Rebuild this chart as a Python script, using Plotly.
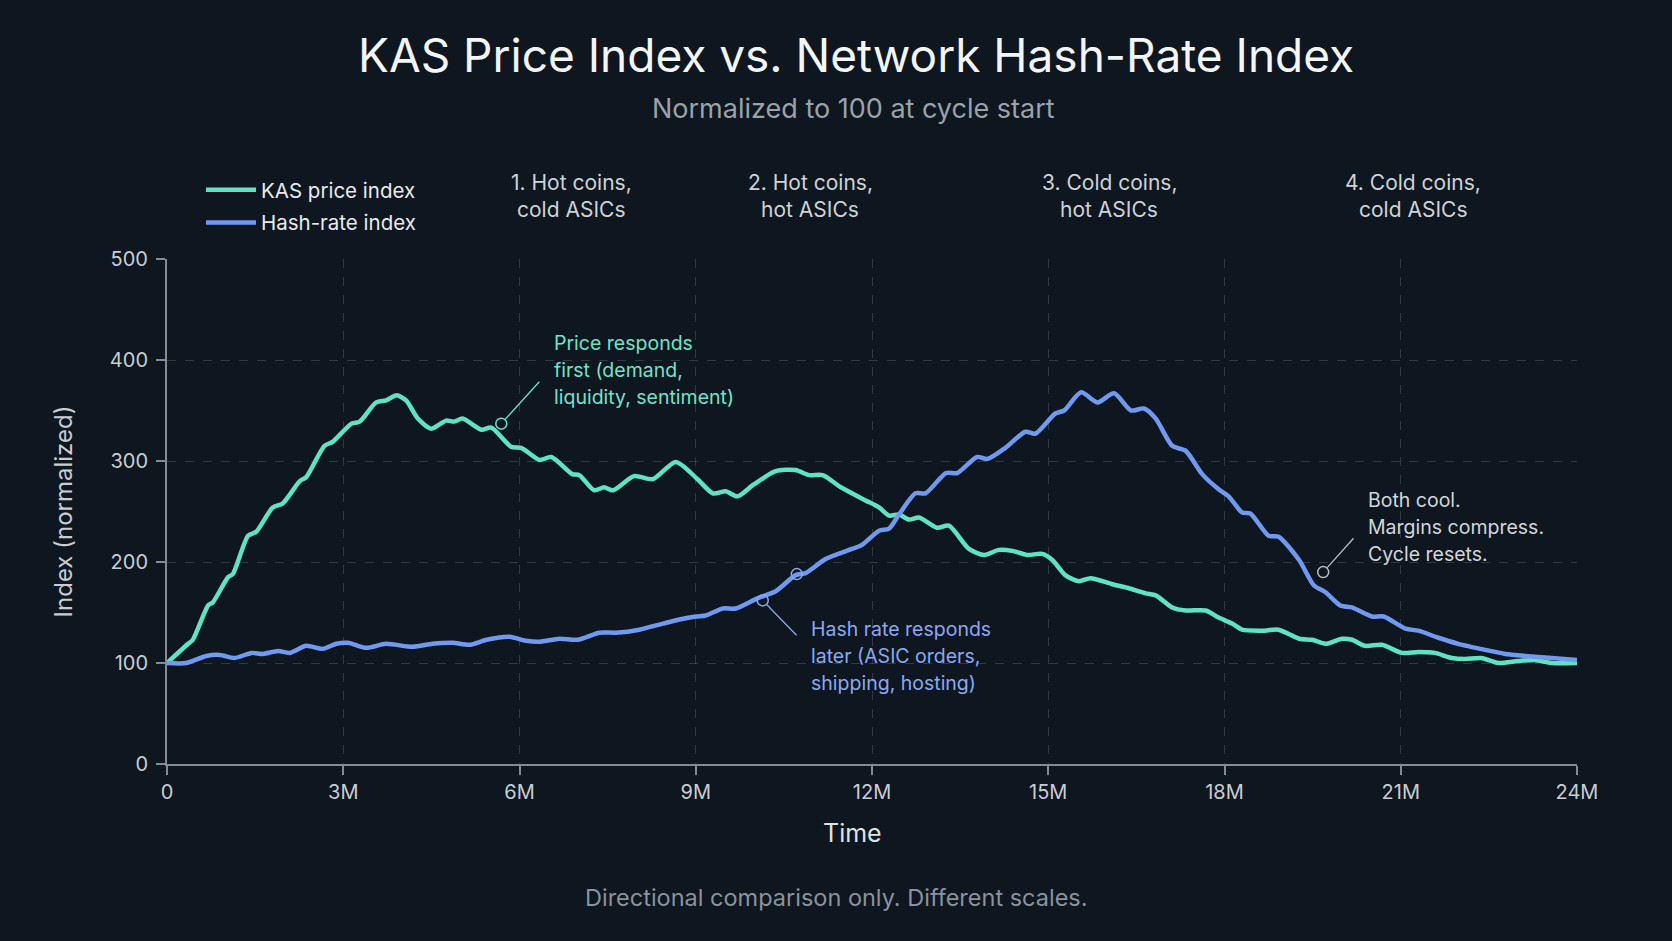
import plotly.graph_objects as go

# ---------------- data ----------------
price_months = [0.00, 0.36, 0.44, 0.70, 0.78, 1.04, 1.12, 1.38, 1.52, 1.80, 1.97, 2.26, 2.37, 2.68, 2.82,
                3.14, 3.28, 3.56, 3.73, 3.91, 4.07, 4.27, 4.50, 4.75, 4.89, 5.03, 5.35, 5.52, 5.86, 6.03,
                6.34, 6.54, 6.90, 7.02, 7.27, 7.44, 7.59, 7.95, 8.27, 8.66, 9.03, 9.29, 9.51, 9.71, 9.97,
                10.36, 10.70, 10.93, 11.16, 11.47, 11.89, 12.12, 12.29, 12.46, 12.63, 12.80, 13.11, 13.31,
                13.65, 13.91, 14.16, 14.39, 14.64, 14.90, 15.07, 15.29, 15.52, 15.72, 16.09, 16.37, 16.66,
                16.83, 17.11, 17.34, 17.68, 17.90, 18.13, 18.30, 18.64, 18.92, 19.27, 19.49, 19.72, 20.00,
                20.17, 20.39, 20.68, 21.02, 21.30, 21.58, 21.87, 22.09, 22.37, 22.66, 23.00, 23.28, 23.57, 24.00]
price_index = [100, 119, 123, 157, 160, 185, 188, 226, 230, 254, 258, 280, 284, 315, 319,
               337, 339, 358, 360, 365, 360, 342, 332, 340, 339, 342, 331, 333, 314, 313,
               301, 304, 287, 286, 271, 274, 271, 285, 282, 299, 282, 268, 270, 265, 276,
               290, 291, 286, 286, 274, 261, 254, 246, 247, 242, 244, 234, 236,
               213, 207, 212, 211, 207, 208, 202, 187, 181, 184, 178, 174, 169,
               167, 155, 152, 152, 145, 139, 133, 132, 133, 124, 123, 119, 124,
               123, 117, 118, 110, 111, 110, 105, 104, 105, 100, 102, 103, 100, 100]

hash_months = [0.00, 0.33, 0.67, 0.90, 1.15, 1.44, 1.63, 1.89, 2.09, 2.37, 2.65, 2.88, 3.08, 3.39, 3.73,
               4.18, 4.52, 4.86, 5.15, 5.44, 5.83, 6.11, 6.34, 6.68, 6.99, 7.36, 7.64, 8.04, 8.44, 8.72,
               9.00, 9.17, 9.46, 9.68, 10.05, 10.36, 10.70, 10.87, 11.21, 11.66, 11.83, 12.12, 12.29,
               12.46, 12.74, 12.91, 13.26, 13.45, 13.79, 13.96, 14.27, 14.61, 14.78, 15.12, 15.27, 15.56,
               15.84, 16.12, 16.41, 16.63, 16.83, 17.11, 17.34, 17.62, 17.90, 18.07, 18.30, 18.44, 18.75,
               18.92, 19.27, 19.52, 19.72, 19.97, 20.17, 20.51, 20.71, 21.08, 21.30, 21.64, 21.98, 22.44,
               22.78, 23.12, 23.34, 23.57, 24.00]
hash_index = [100, 100, 107, 108, 105, 110, 109, 112, 110, 117, 114, 119, 120, 115, 119,
              116, 119, 120, 118, 123, 126, 122, 121, 124, 123, 130, 130, 133, 139, 143,
              146, 147, 154, 154, 164, 171, 187, 189, 203, 213, 217, 231, 233,
              247, 268, 268, 288, 288, 304, 302, 313, 329, 327, 347, 350, 368,
              358, 367, 350, 352, 342, 315, 310, 287, 272, 265, 249, 248, 226,
              225, 202, 177, 170, 157, 155, 146, 146, 134, 132, 125, 119, 113,
              109, 107, 106, 105, 103]

x_tick_vals = [0, 3, 6, 9, 12, 15, 18, 21, 24]
x_tick_text = ["0", "3M", "6M", "9M", "12M", "15M", "18M", "21M", "24M"]
y_tick_vals = [0, 100, 200, 300, 400, 500]

phase_labels = [["1. Hot coins,", "cold ASICs"], ["2. Hot coins,", "hot ASICs"],
                ["3. Cold coins,", "hot ASICs"], ["4. Cold coins,", "cold ASICs"]]
phase_centers = [6.88, 10.95, 16.04, 21.2]

# callouts: marker point, line end, text lines
callout_price = dict(pt=(5.69, 337), end=(6.36, 380),
                     lines=["Price responds", "first (demand,", "liquidity, sentiment)"])
callout_hash = dict(pt=(10.14, 162), end=(10.74, 126),
                    lines=["Hash rate responds", "later (ASIC orders,", "shipping, hosting)"])
callout_hash_extra = (10.72, 188)
callout_cool = dict(pt=(19.68, 190), end=(20.22, 225),
                    lines=["Both cool.", "Margins compress.", "Cycle resets."])

# ---------------- style ----------------
W, H = 1672, 941
L, R, T, B = 167, 1577, 259, 764
BG = "#0e1620"
TEAL = "#60e3c2"
BLUE = "#7099ef"
TEAL_TXT = "#72e3c8"
BLUE_TXT = "#89a9f4"
GRAY_TXT = "#d2d6da"
FONT = "Inter"


def py(p):
    return (B - p) / (B - T)


def px(p):
    return (p - L) / (R - L)


fig = go.Figure()
fig.add_trace(go.Scatter(x=price_months, y=price_index, mode="lines", name="KAS price index",
                         legendgroup="price",
                         line=dict(color=TEAL, width=4.5, shape="spline", smoothing=0.7)))
fig.add_trace(go.Scatter(x=hash_months, y=hash_index, mode="lines", name="Hash-rate index",
                         legendgroup="hash",
                         line=dict(color=BLUE, width=4.5, shape="spline", smoothing=0.7)))

# callout markers
for pt, col in [(callout_price["pt"], TEAL_TXT), (callout_hash["pt"], BLUE_TXT),
                (callout_hash_extra, BLUE_TXT), (callout_cool["pt"], "#b8bec4")]:
    fig.add_trace(go.Scatter(x=[pt[0]], y=[pt[1]], mode="markers", showlegend=False, hoverinfo="skip",
                             marker=dict(symbol="circle-open", size=11, color=col, line=dict(width=1.5))))

annotations = []


def text_line(x_pix, y_pix, text, size, color, anchor="left"):
    annotations.append(dict(x=px(x_pix), y=py(y_pix), xref="paper", yref="paper", text=text,
                            showarrow=False, xanchor=anchor, yanchor="middle",
                            font=dict(family=FONT, size=size, color=color)))


for c, col, lcol, x0, ys in [(callout_price, TEAL_TXT, TEAL_TXT, 552, [343, 370, 397]),
                             (callout_hash, BLUE_TXT, BLUE_TXT, 809, [629, 656, 683]),
                             (callout_cool, GRAY_TXT, "#b8bec4", 1366, [500, 527, 554])]:
    annotations.append(dict(x=c["pt"][0], y=c["pt"][1], ax=c["end"][0], ay=c["end"][1],
                            xref="x", yref="y", axref="x", ayref="y", text="", showarrow=True,
                            arrowhead=0, arrowwidth=1.3, arrowcolor=lcol, standoff=6))
    for line, yy in zip(c["lines"], ys):
        text_line(x0, yy, line, 19.5, col)

for lab, xc in zip(phase_labels, phase_centers):
    for line, yy in zip(lab, [182, 210]):
        annotations.append(dict(x=xc, y=py(yy), xref="x", yref="paper", text=line, showarrow=False,
                                xanchor="center", yanchor="middle",
                                font=dict(family=FONT, size=21, color="#cfd3d7")))

text_line(856, 55, "KAS Price Index vs. Network Hash-Rate Index", 46, "#f3f5f7", "center")
text_line(853, 109, "Normalized to 100 at cycle start", 27, "#9aa2aa", "center")
text_line(836, 897, "Directional comparison only. Different scales.", 23.5, "#8a939b", "center")
text_line(852, 833, "Time", 25, "#dfe2e5", "center")

axis_common = dict(showline=True, linecolor="#858c93", linewidth=2, ticks="outside", ticklen=9,
                   tickcolor="#858c93", tickwidth=1.5, showgrid=True, gridcolor="rgba(150,160,170,0.26)",
                   griddash="dash", gridwidth=1, zeroline=False,
                   tickfont=dict(family=FONT, size=20, color="#c9cdd1"))

fig.update_layout(
    width=W, height=H, paper_bgcolor=BG, plot_bgcolor=BG,
    margin=dict(l=L, r=W - R, t=T, b=H - B),
    font=dict(family=FONT, color="#c9cdd1"),
    showlegend=True,
    legend=dict(x=px(201), y=py(170), xanchor="left", yanchor="top", bgcolor="rgba(0,0,0,0)",
                font=dict(family=FONT, size=20.5, color="#e8ebee"), itemwidth=50,
                traceorder="grouped", tracegroupgap=3),
    xaxis=dict(range=[0, 24], tickvals=x_tick_vals, ticktext=x_tick_text, **axis_common),
    yaxis=dict(range=[0, 500], tickvals=y_tick_vals, ticklabelstandoff=4,
               title=dict(text="Index (normalized)", standoff=30,
                          font=dict(family=FONT, size=24, color="#c9cdd1")),
               **axis_common),
    annotations=annotations,
)

fig.write_html("out.html")
